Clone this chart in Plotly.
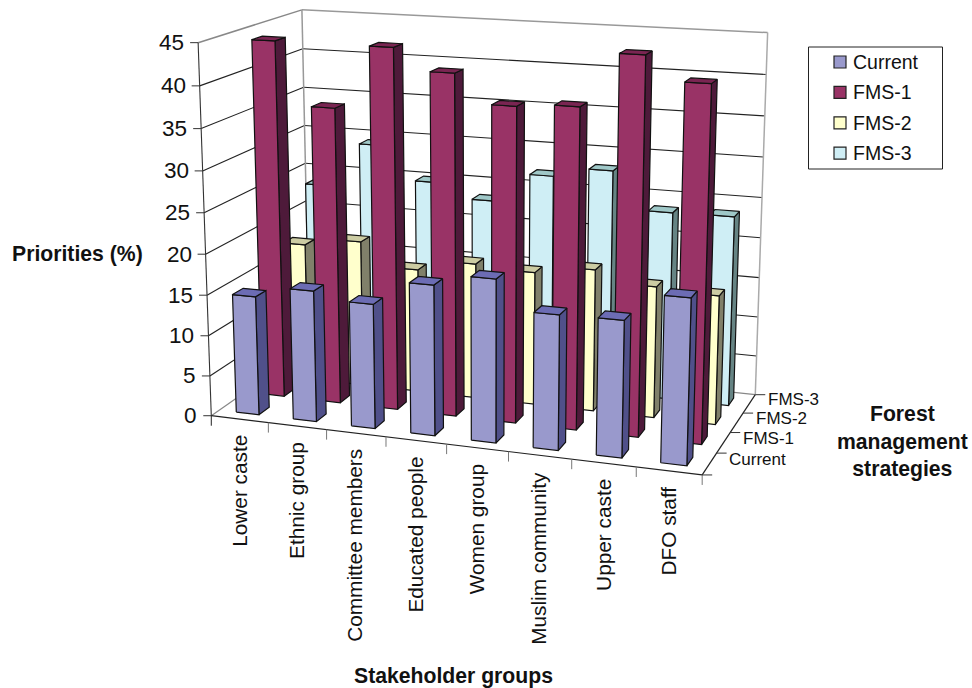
import numpy as np
import plotly.graph_objects as go

# Data: priorities (%) per stakeholder group and forest management strategy
groups = ["Lower caste", "Ethnic group", "Committee members", "Educated people",
          "Women group", "Muslim community", "Upper caste", "DFO staff"]
strategies = ["Current", "FMS-1", "FMS-2", "FMS-3"]
current = [14.7, 16.1, 15.2, 18.2, 19.6, 16.1, 16.2, 19.5]
fms1 = [44.1, 36.5, 44.1, 41.5, 38.1, 38.5, 44.8, 42]
fms2 = [17.5, 18.5, 15.6, 17, 16.6, 17.6, 16.2, 15.8]
fms3 = [23.5, 29.2, 25, 23.2, 26.9, 28.1, 23.5, 23.6]
z_ticks = [0, 5, 10, 15, 20, 25, 30, 35, 40, 45]

series_values = [current, fms1, fms2, fms3]
front_colors = ["#9999CC", "#993366", "#FFFFCC", "#CFEEF5"]
side_colors = ["#50508A", "#4E1A3A", "#80806A", "#668484"]
top_colors = ["#6C6CB4", "#7A2552", "#CCCCA3", "#9FC8C8"]

# Box proportions and pinhole camera of the 3-D view
BOX_W, BOX_D, BOX_H = 8.0, 3.85, 6.0
AZIM, ELEV = np.radians(19), np.radians(14)
FOCAL, DIST, CX, CY = 2000.0, 31.7, 487.5, 225.5
BAR_FRAC = 0.4
FONT = "Liberation Sans"


def project(i, s, v):
    """Map (category position, strategy position, value) to plot coordinates."""
    x = i - BOX_W / 2
    y = s * BOX_D / 4 - BOX_D / 2
    z = v / 45 * BOX_H - BOX_H / 2
    r = -x * np.sin(AZIM) + y * np.cos(AZIM)
    xc = x * np.cos(AZIM) + y * np.sin(AZIM)
    yc = z * np.cos(ELEV) + r * np.sin(ELEV)
    zc = DIST + r * np.cos(ELEV) - z * np.sin(ELEV)
    return CX + FOCAL * xc / zc, CY - FOCAL * yc / zc


fig = go.Figure()


def seg(p, q, color, width=1.0):
    xs, ys = zip(project(*p), project(*q))
    fig.add_trace(go.Scatter(x=xs, y=ys, mode="lines", hoverinfo="skip", showlegend=False,
                             line=dict(color=color, width=width)))


def tick(p, dx, dy, color, width=1.0):
    u, v = project(*p)
    fig.add_trace(go.Scatter(x=[u, u + dx], y=[v, v + dy], mode="lines", hoverinfo="skip",
                             showlegend=False, line=dict(color=color, width=width)))


def face(points, fill):
    pts = [project(*p) for p in points + points[:1]]
    xs, ys = zip(*pts)
    fig.add_trace(go.Scatter(x=xs, y=ys, mode="lines", fill="toself", fillcolor=fill,
                             hoverinfo="skip", showlegend=False,
                             line=dict(color="#111111", width=1.2)))


# Walls and gridlines
for t in z_ticks[:-1]:
    if t > 0:
        seg((0, 0, t), (0, 4, t), "#222222", 1.1)
        seg((0, 4, t), (8, 4, t), "#222222", 1.1)
seg((0, 4, 0), (8, 4, 0), "#888888", 1.2)
seg((0, 0, 0), (0, 4, 0), "#888888", 1.2)
seg((0, 0, 45), (0, 4, 45), "#888888", 1.5)
seg((0, 4, 45), (8, 4, 45), "#999999", 1.5)
seg((0, 4, 0), (0, 4, 45), "#999999", 1.5)
seg((8, 4, 0), (8, 4, 45), "#AAAAAA", 1.5)
seg((0, 0, 0), (0, 0, 45), "#333333", 1.1)
seg((0, 0, 0), (8, 0, 0), "#222222", 1.2)
seg((8, 0, 0), (8, 4, 0), "#222222", 1.2)

# Axis tick marks
for t in z_ticks:
    tick((0, 0, t), -8, 0, "#333333")
for i in range(len(groups) + 1):
    tick((i, 0, 0), 0, 10, "#777777" if i else "#222222")
for s in range(len(strategies) + 1):
    tick((8, s, 0), 10, 0, "#333333")

# Columns, painted from the back row forward and from left to right
half = BAR_FRAC / 2
for s in reversed(range(len(strategies))):
    for i, v in enumerate(series_values[s]):
        x0, x1 = i + 0.5 - half, i + 0.5 + half
        y0, y1 = s + 0.5 - half, s + 0.5 + half
        face([(x1, y0, 0), (x1, y1, 0), (x1, y1, v), (x1, y0, v)], side_colors[s])
        face([(x0, y0, 0), (x1, y0, 0), (x1, y0, v), (x0, y0, v)], front_colors[s])
        face([(x0, y0, v), (x1, y0, v), (x1, y1, v), (x0, y1, v)], top_colors[s])

annotations = []


def label(x, y, text, size, anchor="center", yanchor="middle", angle=0, bold=False):
    annotations.append(dict(x=x, y=y, xref="x", yref="y", text=f"<b>{text}</b>" if bold else text,
                            showarrow=False, xanchor=anchor, yanchor=yanchor, textangle=angle,
                            font=dict(family=FONT, size=size, color="#111111")))


for t in z_ticks:
    u, v = project(0, 0, t)
    label(u - 12, v, str(t), 22.5, anchor="right")
for i, g in enumerate(groups):
    u, v = project(i + 0.5, 0, 0)
    label(u - 1, v + 14, g, 20.8, yanchor="top", angle=-90)
for s, name in enumerate(strategies):
    u, v = project(8, s + 0.5, 0)
    label(u + 17, v - 4, name, 17, anchor="left")

label(77, 254, "Priorities (%)", 21.2, bold=True)
label(453, 676, "Stakeholder groups", 21.2, bold=True)
label(902, 441, "Forest<br>management<br>strategies", 21.2, bold=True)

# Legend panel
shapes = [dict(type="rect", xref="x", yref="y", x0=808.5, y0=47, x1=942.5, y1=169,
               line=dict(color="#222222", width=1), fillcolor="white")]
for row, (name, color) in enumerate(zip(strategies, front_colors)):
    yc = 62 + row * 30.4
    shapes.append(dict(type="rect", xref="x", yref="y", x0=834, y0=yc - 6, x1=846, y1=yc + 6,
                       line=dict(color="#222222", width=1.2), fillcolor=color))
    label(851, yc, name, 19.5, anchor="left")

fig.update_layout(
    width=972, height=688, margin=dict(l=0, r=0, t=0, b=0),
    paper_bgcolor="white", plot_bgcolor="white", showlegend=False,
    xaxis=dict(range=[0, 972], visible=False, fixedrange=True),
    yaxis=dict(range=[688, 0], visible=False, fixedrange=True),
    annotations=annotations, shapes=shapes,
)
fig.write_html("out.html")
